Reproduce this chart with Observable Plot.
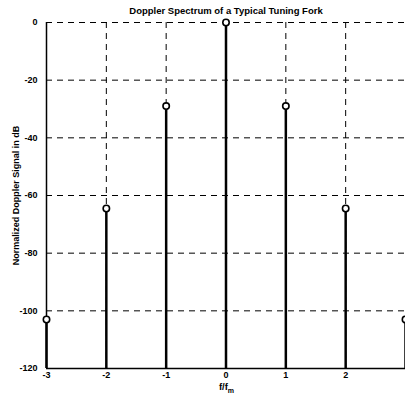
<!DOCTYPE html>
<html><head><meta charset="utf-8">
<script src="https://cdn.jsdelivr.net/npm/d3@7"></script>
<script src="https://cdn.jsdelivr.net/npm/@observablehq/plot@0.6"></script>
<style>
html,body{margin:0;padding:0;background:#fff;overflow:hidden;width:405px;height:395px;}
body{font-family:"Liberation Sans",Arial,sans-serif;font-weight:bold;color:#000;}
#title{height:16px;line-height:16px;font-size:9.5px;text-align:center;padding-left:47px;box-sizing:border-box;width:405px;padding-top:3px;}
#xlabel{height:14px;line-height:12px;font-size:9.5px;text-align:center;width:405px;padding-left:48px;box-sizing:border-box;color:#000;}
#xlabel sub{font-size:7px;color:#000;}
svg{display:block;overflow:visible;}
</style></head>
<body>
<div id="title">Doppler Spectrum of a Typical Tuning Fork</div>
<div id="chart"></div>
<div id="xlabel">f/f<sub>m</sub></div>
<script>
const harmonics = [-3, -2, -1, 0, 1, 2, 3];
const levelsDb = [-103, -64.5, -29, 0, -29, -64.5, -103];
const xTicks = [-3, -2, -1, 0, 1, 2];
const yTicks = [0, -20, -40, -60, -80, -100, -120];
const yLabel = "Normalized Doppler Signal in dB";

const data = harmonics.map((h, i) => ({h, db: levelsDb[i]}));
const fmt = d => String(d);

const plot = Plot.plot({
  width: 405,
  height: 365,
  marginLeft: 46,
  marginRight: 0,
  marginTop: 6,
  marginBottom: 13,
  style: {fontFamily: '"Liberation Sans", Arial, sans-serif', fontSize: "9px", fontWeight: "bold", background: "#fff", overflow: "visible"},
  x: {domain: [-3, 3]},
  y: {domain: [-120, 0]},
  marks: [
    Plot.gridX(xTicks.concat([3]), {stroke: "#000", strokeOpacity: 1, strokeWidth: 1, strokeDasharray: "6,5"}),
    Plot.gridY(yTicks, {stroke: "#000", strokeOpacity: 1, strokeWidth: 1, strokeDasharray: "6,5"}),
    Plot.ruleX([-3], {stroke: "#000", strokeWidth: 1.5}),
    Plot.ruleY([-120], {stroke: "#000", strokeWidth: 1.5}),
    Plot.ruleX(data, {x: "h", y1: -120, y2: "db", stroke: "#000", strokeWidth: 2.5}),
    Plot.dot(data, {x: "h", y: "db", r: 3.2, fill: "#fff", stroke: "#000", strokeWidth: 1.6}),
    Plot.axisX({ticks: xTicks, tickFormat: fmt, tickSize: 0, tickPadding: 3, label: null}),
    Plot.axisY({ticks: yTicks, tickFormat: fmt, tickSize: 0, tickPadding: 9, label: yLabel, labelAnchor: "center", labelArrow: "none", labelOffset: 34})
  ]
});
document.getElementById("chart").appendChild(plot);
</script>
</body></html>
